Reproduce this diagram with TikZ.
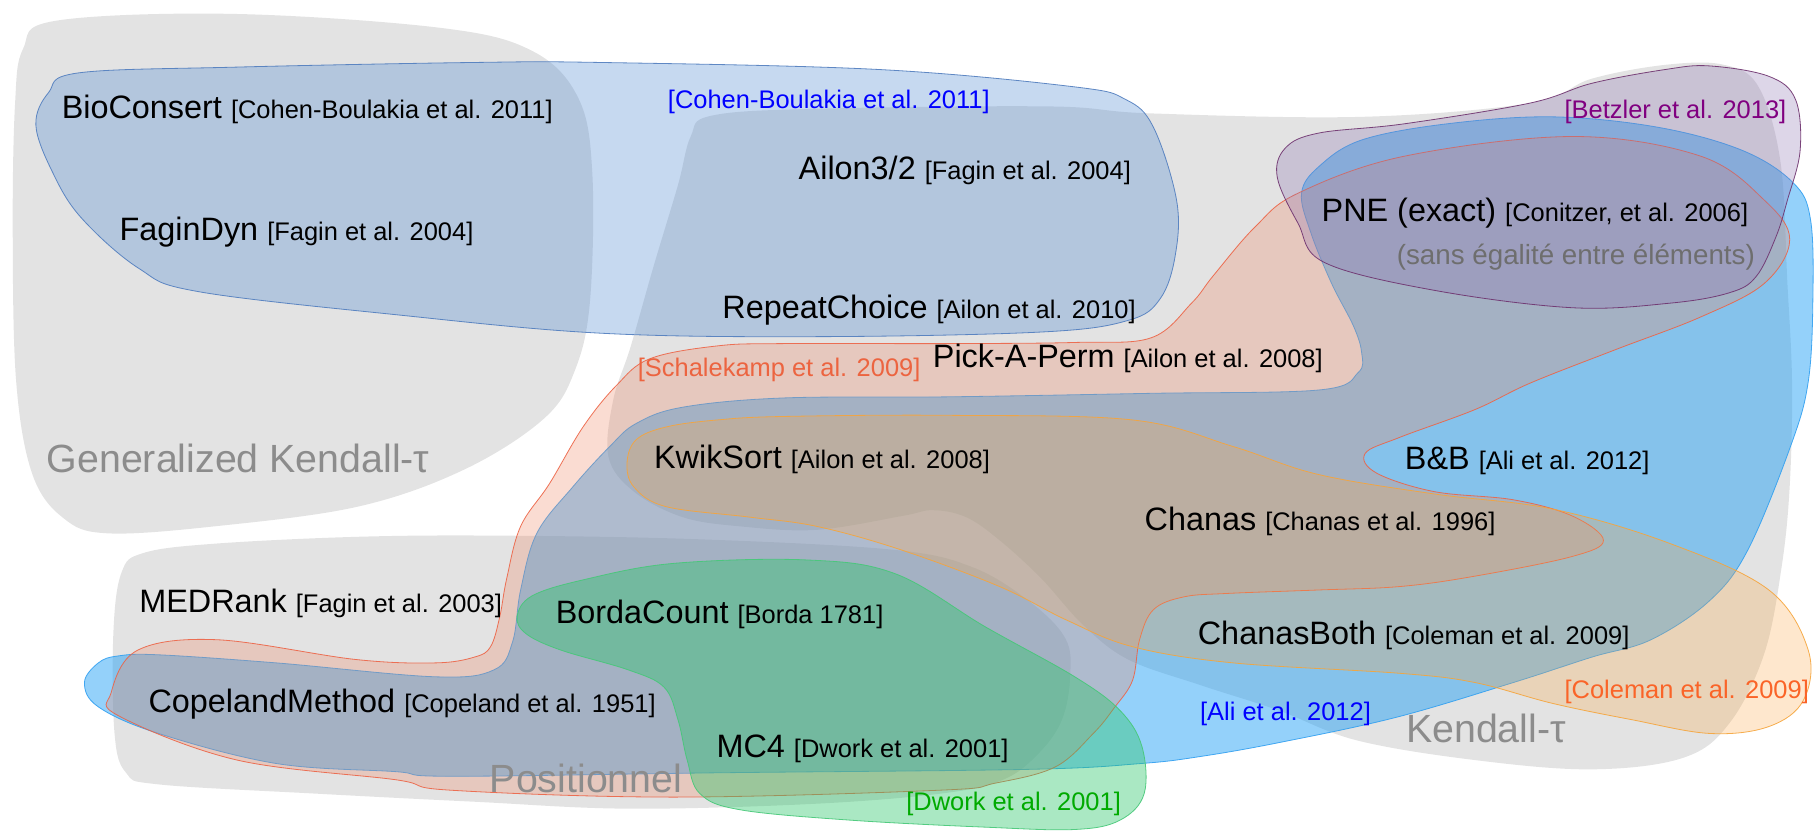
\documentclass[tikz,border=0pt]{standalone}
\usepackage{fontspec}
\setmainfont{Liberation Sans}

\definecolor{setgray}{RGB}{199,199,199}
\definecolor{cbfill}{RGB}{82,140,210}
\definecolor{cbline}{RGB}{80,125,190}
\definecolor{alifill}{RGB}{28,157,245}
\definecolor{aliline}{RGB}{50,160,240}
\definecolor{schfill}{RGB}{238,138,105}
\definecolor{schline}{RGB}{236,100,70}
\definecolor{colfill}{RGB}{252,168,72}
\definecolor{colline}{RGB}{245,165,60}
\definecolor{betfill}{RGB}{142,118,178}
\definecolor{betline}{RGB}{110,50,110}
\definecolor{dwfill}{RGB}{43,197,105}
\definecolor{dwline}{RGB}{70,200,120}

\definecolor{citeblue}{RGB}{0,0,255}
\definecolor{citepurple}{RGB}{128,0,128}
\definecolor{citeschal}{RGB}{236,100,64}
\definecolor{citecoleman}{RGB}{250,100,40}
\definecolor{citegreen}{RGB}{0,170,0}
\definecolor{catgray}{RGB}{140,140,140}
\definecolor{notegray}{RGB}{110,110,110}

\newcommand\refsize{\fontsize{11}{13}\selectfont}

\tikzset{
  region/.style={line width=0.35pt, draw opacity=0.9},
  grayset/.style={region, fill=setgray, fill opacity=0.5},
  cbset/.style={region, fill=cbfill, fill opacity=0.33, draw=cbline},
  aliset/.style={region, fill=alifill, fill opacity=0.47, draw=aliline},
  schset/.style={region, fill=schfill, fill opacity=0.3, draw=schline},
  colset/.style={region, fill=colfill, fill opacity=0.27, draw=colline},
  betset/.style={region, fill=betfill, fill opacity=0.3, draw=betline},
  dwset/.style={region, fill=dwfill, fill opacity=0.4, draw=dwline},
  algo/.style={anchor=west, inner sep=0pt, font=\fontsize{14}{17}\selectfont},
  cite/.style={anchor=west, inner sep=0pt, font=\refsize},
  category/.style={anchor=west, inner sep=0pt, font=\fontsize{17}{20}\selectfont, text=catgray},
}

\begin{document}
\begin{tikzpicture}[x=0.5pt,y=-0.5pt]
\useasboundingbox (0,0) rectangle (1568,721);

% Generalized Kendall-tau
\path[grayset] plot[smooth cycle, tension=0.6] coordinates {
 (20,42) (48,18) (200,12) (380,24) (460,44) (500,85) (512,150) (510,260)
 (497,320) (470,362) (401,406) (309,438) (185,455) (93,461) (55,448)
 (28,410) (14,330) (11,200) (13,90)};

% Kendall-tau
\path[grayset] plot[smooth cycle, tension=0.6] coordinates {
 (615,100) (706,94) (907,92) (994,98) (1177,101) (1323,89) (1376,68)
 (1440,56) (1490,56) (1520,75) (1539,140) (1545,245) (1549,331) (1547,420)
 (1540,490) (1525,565) (1495,625) (1455,655) (1376,665) (1275,657)
 (1173,640) (1105,614) (1037,592) (975,570) (936,540) (900,500) (864,467)
 (835,447) (806,441) (780,446) (706,458) (640,455) (590,447) (548,425)
 (526,395) (530,346) (545,300) (565,230) (586,160) (597,118)};

% Positionnel
\path[grayset] plot[smooth cycle, tension=0.6] coordinates {
 (105,495) (124,478) (185,470) (309,464) (432,463) (600,466) (770,475)
 (840,490) (890,520) (921,552) (925,585) (918,622) (898,651) (867,674)
 (813,686) (700,695) (543,699) (410,693) (273,686) (137,678) (109,668)
 (99,634) (98,547)};

% Cohen-Boulakia et al. 2011
\path[cbset] plot[smooth cycle, tension=0.6] coordinates {
 (31,108) (42,80) (68,63) (205,58) (410,54) (519,54) (758,60) (928,75)
 (973,86) (997,110) (1017,173) (1016,220) (1003,258) (975,277) (900,287)
 (706,291) (519,288) (342,272) (171,252) (120,232) (70,188) (45,148)};

% Ali et al. 2012
\path[aliset] plot[smooth cycle, tension=0.6] coordinates {
 (1125,167) (1140,144) (1177,121) (1251,107) (1342,101) (1433,110)
 (1506,130) (1550,158) (1565,190) (1567,260) (1563,330) (1548,385)
 (1511,475) (1478,519) (1427,553) (1376,568) (1308,590) (1207,620)
 (1105,642) (1037,654) (986,660) (890,665) (620,668) (389,671) (342,667)
 (239,660) (137,634) (85,611) (73,590) (85,573) (102,567) (137,566)
 (239,573) (376,585) (427,579) (443,555) (450,510) (464,461) (495,421)
 (527,386) (550,366) (590,352) (677,344) (821,343) (994,340) (1141,337)
 (1174,322) (1177,305) (1170,282) (1151,245) (1133,201)};

% Schalekamp et al. 2009
\path[schset] plot[smooth cycle, tension=0.6] coordinates {
 (96,599) (119,562) (188,553) (307,570) (376,573) (410,568) (424,559)
 (432,533) (438,500) (450,455) (475,418) (504,369) (533,333) (562,310)
 (620,299) (677,297) (821,297) (930,296) (995,292) (1030,262) (1049,238)
 (1085,196) (1122,167) (1214,135) (1360,118) (1470,135) (1525,173)
 (1547,207) (1525,245) (1470,274) (1397,302) (1323,331) (1275,354)
 (1210,378) (1180,392) (1190,409) (1240,425) (1308,432) (1359,446)
 (1386,467) (1359,481) (1275,498) (1210,507) (1139,510) (1060,513)
 (1023,516) (997,527) (985,553) (979,588) (963,612) (945,634) (912,663)
 (860,677) (813,683) (582,689) (389,683) (342,674) (205,657) (103,619)};

% Coleman et al. 2009
\path[colset] plot[smooth cycle, tension=0.6] coordinates {
 (542,400) (550,380) (576,369) (620,363) (677,360) (821,359) (979,363)
 (1066,386) (1139,410) (1240,427) (1342,440) (1444,470) (1529,510)
 (1563,562) (1559,605) (1529,628) (1478,634) (1410,622) (1342,608)
 (1275,590) (1210,582) (1066,573) (979,559) (922,536) (864,507) (778,475)
 (706,455) (648,447) (576,438) (548,421)};

% Betzler et al. 2013
\path[betset] plot[smooth cycle, tension=0.6] coordinates {
 (1104,153) (1111,128) (1140,115) (1214,107) (1323,89) (1376,72)
 (1440,60) (1478,57) (1529,66) (1552,86) (1556,130) (1545,173) (1535,205)
 (1518,239) (1495,253) (1444,262) (1359,266) (1240,251) (1145,227)
 (1122,193)};

% Dwork et al. 2001
\path[dwset] plot[smooth cycle, tension=0.6] coordinates {
 (447,533) (460,515) (505,501) (582,487) (697,484) (774,496) (852,542)
 (929,585) (968,614) (987,645) (989,686) (968,709) (929,717) (852,715)
 (736,709) (640,700) (605,686) (594,657) (586,622) (574,594) (543,579)
 (485,562) (455,548)};

% category names
\node[category] (gkt) at (40,396) {Generalized Kendall-τ};
\node[category] (kt) at (1215,630) {Kendall-τ};
\node[category] (pos) at (423,673) {Positionnel};

% references attached to the sets
\node[cite, text=citeblue] (refcb) at (577,88) {[Cohen-Boulakia et al. 2011]};
\node[cite, text=citepurple] (refbet) at (1352,97) {[Betzler et al. 2013]};
\node[cite, text=citeschal] (refsch) at (551,320) {[Schalekamp et al. 2009]};
\node[cite, text=citecoleman] (refcol) at (1352,598) {[Coleman et al. 2009]};
\node[cite, text=citeblue] (refali) at (1037,617) {[Ali et al. 2012]};
\node[cite, text=citegreen] (refdw) at (783,695) {[Dwork et al. 2001]};

% algorithms
\node[algo] (bioconsert) at (53,95) {BioConsert {\refsize[Cohen-Boulakia et al. 2011]}};
\node[algo] (fagindyn) at (103,201) {FaginDyn {\refsize[Fagin et al. 2004]}};
\node[algo] (ailon) at (690,147) {Ailon3/2 {\refsize[Fagin et al. 2004]}};
\node[algo] (repeat) at (624,268) {RepeatChoice {\refsize[Ailon et al. 2010]}};
\node[algo] (pne) at (1142,184) {PNE (exact) {\refsize[Conitzer, et al. 2006]}};
\node[anchor=west, inner sep=0pt, font=\fontsize{12}{14}\selectfont, text=notegray] (pnenote) at (1207,222) {(sans égalité entre éléments)};
\node[algo] (pickaperm) at (806,310) {Pick-A-Perm {\refsize[Ailon et al. 2008]}};
\node[algo] (kwiksort) at (565,397) {KwikSort {\refsize[Ailon et al. 2008]}};
\node[algo] (bnb) at (1214,398) {B\&B {\refsize[Ali et al. 2012]}};
\node[algo] (chanas) at (989,451) {Chanas {\refsize[Chanas et al. 1996]}};
\node[algo] (medrank) at (120,522) {MEDRank {\refsize[Fagin et al. 2003]}};
\node[algo] (borda) at (480,531) {BordaCount {\refsize[Borda 1781]}};
\node[algo] (chanasboth) at (1035,549) {ChanasBoth {\refsize[Coleman et al. 2009]}};
\node[algo] (copeland) at (128,609) {CopelandMethod {\refsize[Copeland et al. 1951]}};
\node[algo] (mcfour) at (619,647) {MC4 {\refsize[Dwork et al. 2001]}};
\end{tikzpicture}
\end{document}
